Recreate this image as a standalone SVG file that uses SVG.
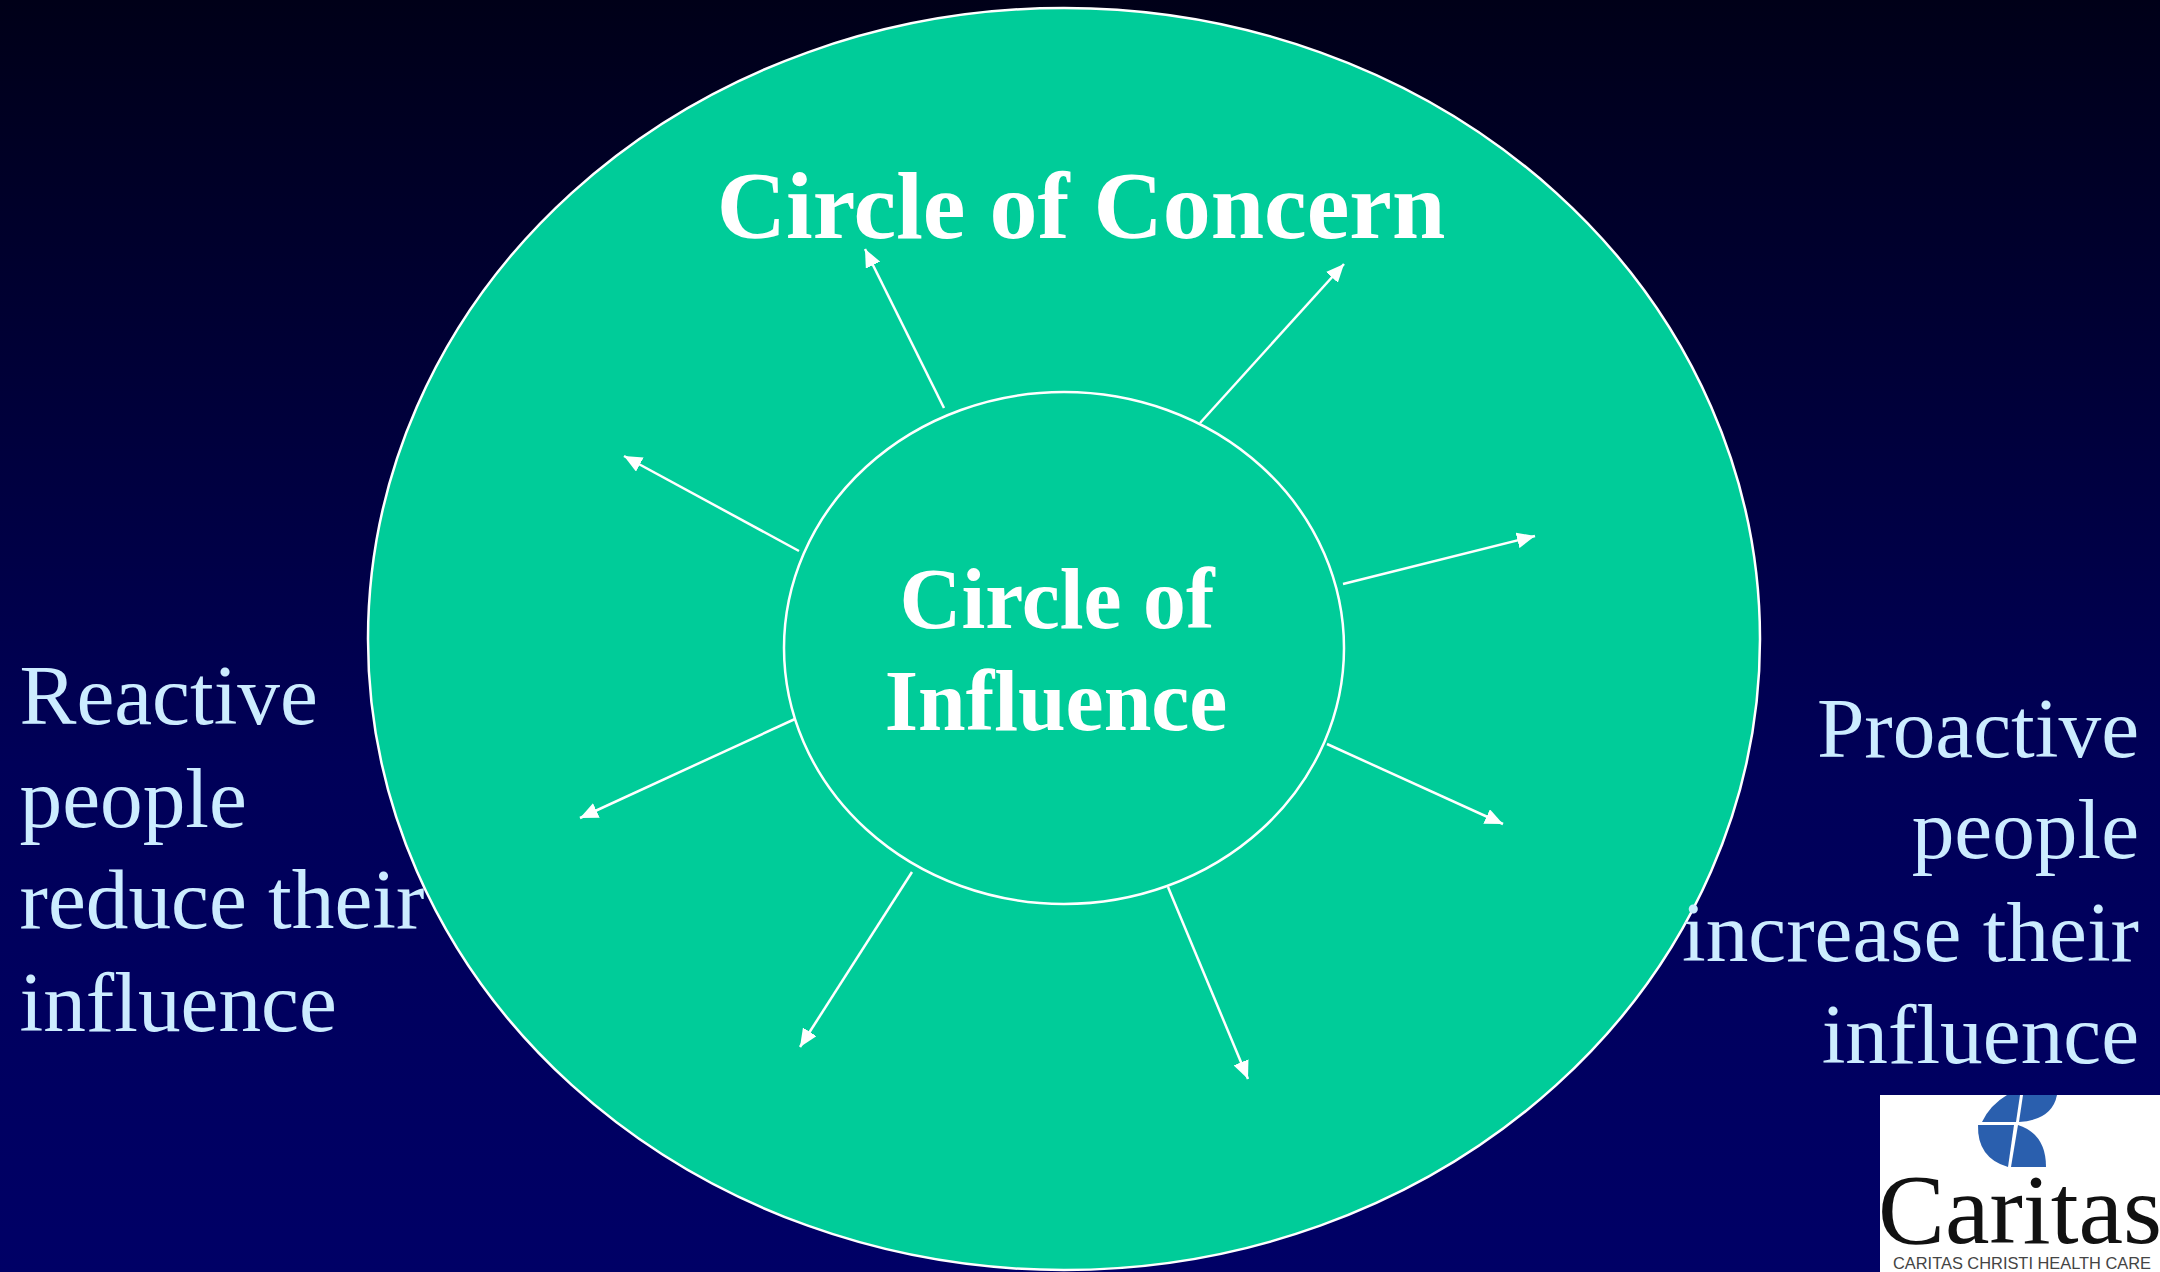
<svg xmlns="http://www.w3.org/2000/svg" width="2160" height="1272" viewBox="0 0 2160 1272">
<style>
.arrow{fill:none;stroke:#fff;stroke-width:2.5;marker-end:url(#head)}
.circle{fill:#00cc99;stroke:#fff;stroke-width:2.5}
.big{font-family:"Liberation Serif","Times New Roman",serif;font-weight:bold;fill:#fff;text-anchor:middle}
.side{font-family:"Liberation Serif","Times New Roman",serif;font-size:85.3px;fill:#ccecff}
.blue{fill:#2a5fae}
</style>
<defs>
<linearGradient id="bg" x1="0" y1="0" x2="0" y2="1"><stop offset="0" stop-color="#000018"/><stop offset="0.6" stop-color="#000058"/><stop offset="1" stop-color="#000066"/></linearGradient>
<marker id="head" viewBox="0 0 18 16" refX="18" refY="8" markerWidth="18" markerHeight="16" markerUnits="userSpaceOnUse" orient="auto"><path d="M0 0L18 8L0 16Z" fill="#fff"/></marker>
</defs>
<rect width="2160" height="1272" fill="url(#bg)"/>
<g id="circle-of-concern"><ellipse class="circle" cx="1064" cy="639" rx="696" ry="631"/><text class="big" font-size="96" x="1081" y="238">Circle of Concern</text></g>
<g id="circle-of-influence"><ellipse class="circle" cx="1064" cy="648" rx="280" ry="256"/><text class="big" font-size="85.7"><tspan x="1057" y="628">Circle of</tspan><tspan x="1056" y="730">Influence</tspan></text></g>
<g id="connectors">
<line class="arrow" x1="944" y1="408" x2="865" y2="249"/>
<line class="arrow" x1="1200" y1="423" x2="1344" y2="264"/>
<line class="arrow" x1="1343" y1="584" x2="1535" y2="536"/>
<line class="arrow" x1="1327" y1="744" x2="1503" y2="824"/>
<line class="arrow" x1="1168" y1="887" x2="1248" y2="1079"/>
<line class="arrow" x1="912" y1="872" x2="800" y2="1047"/>
<line class="arrow" x1="795" y1="719" x2="580" y2="818"/>
<line class="arrow" x1="799" y1="551" x2="624" y2="456"/>
</g>
<g id="reactive-label"><text class="side"><tspan x="19.5" y="724">Reactive</tspan><tspan x="19.5" y="827">people</tspan><tspan x="19.5" y="928">reduce their</tspan><tspan x="19.5" y="1031">influence</tspan></text></g>
<g id="proactive-label"><text class="side" text-anchor="end"><tspan x="2139" y="757">Proactive</tspan><tspan x="2139" y="858">people</tspan><tspan x="2139" y="961">increase their</tspan><tspan x="2139" y="1063">influence</tspan></text></g>
<g id="logo">
<rect x="1880" y="1095" width="280" height="177" fill="#fff"/>
<path class="blue" d="M2007 1095H2020L2016 1122H1982Q1990 1105 2007 1095Z"/>
<path class="blue" d="M2023 1095H2057Q2052 1120 2019 1122Z"/>
<path class="blue" d="M1978 1125H2014L2008 1167Q1977 1158 1978 1125Z"/>
<path class="blue" d="M2018 1125Q2046 1134 2046 1167H2011Z"/>
<text transform="translate(1878 1243) scale(1.09 1.08)" font-family="'Liberation Serif',serif" font-size="92" fill="#111">Caritas</text>
<text x="1893" y="1268.5" font-family="'Liberation Sans',sans-serif" font-size="16.4" fill="#444">CARITAS CHRISTI HEALTH CARE</text>
</g>
</svg>
